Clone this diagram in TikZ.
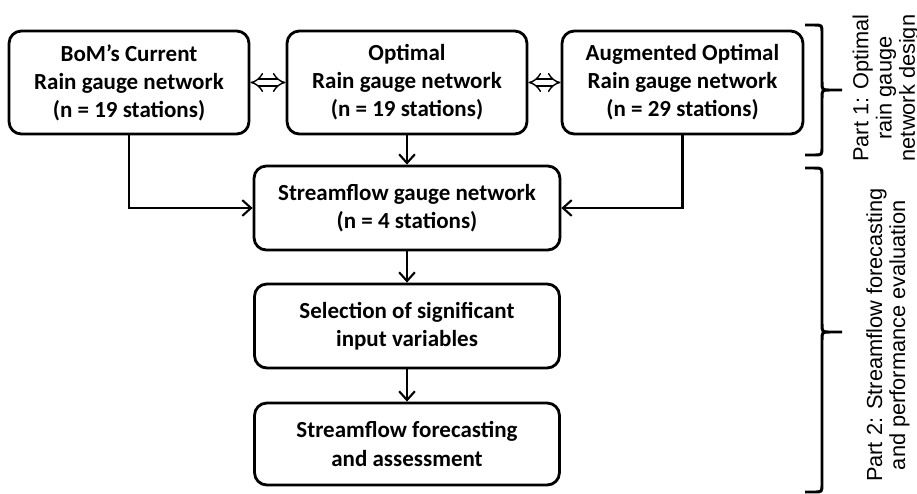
\documentclass[tikz,border=0pt]{standalone}
\usepackage{fontspec}
\setmainfont{Carlito}
\newfontfamily\sidefont{Liberation Sans}
\usetikzlibrary{arrows.meta}

\begin{document}
\begin{tikzpicture}[x=0.02cm, y=-0.02cm,
  stage/.style={draw, line width=1.6pt, rounded corners=7pt, align=center, inner sep=0pt,
    font=\fontsize{13.1}{16}\selectfont\bfseries},
  link/.style={line width=1.2pt, -{Straight Barb[length=5pt,width=9pt]}},
  swap/.style={line width=0.8pt, double distance=3pt, {Implies[length=5pt,width=10pt]}-{Implies[length=5pt,width=10pt]}},
  part/.style={line width=1.7pt},
  side/.style={rotate=90, align=center, font=\sidefont\fontsize{12.4}{13.2}\selectfont}]
\useasboundingbox (0,0) rectangle (917,494);
% part 1: rain gauge networks
\node[stage, minimum width=4.8cm, minimum height=2.06cm] (bom) at (129,82.5) {BoM’s Current\\Rain gauge network\\(n = 19 stations)};
\node[stage, minimum width=4.8cm, minimum height=2.06cm] (opt) at (407,82.5) {Optimal\\Rain gauge network\\(n = 19 stations)};
\node[stage, minimum width=4.82cm, minimum height=2.06cm] (aug) at (682.5,82.5) {Augmented Optimal\\Rain gauge network\\(n = 29 stations)};
% part 2: streamflow
\node[stage, minimum width=6.12cm, minimum height=1.68cm] (sgn) at (407,208) {Streamflow gauge network\\(n = 4 stations)};
\node[stage, minimum width=6.1cm, minimum height=1.68cm] (sel) at (407,326) {Selection of significant\\input variables};
\node[stage, minimum width=6.1cm, minimum height=1.64cm] (fcst) at (407,444) {Streamflow forecasting\\and assessment};

\draw[swap] (bom) -- (opt);
\draw[swap] (opt) -- (aug);
\draw[link] (bom.south) |- (sgn.west);
\draw[link] (aug.south) |- (sgn.east);
\draw[link] (opt) -- (sgn);
\draw[link] (sgn) -- (sel);
\draw[link] (sel) -- (fcst);

% braces
\draw[part] (805,25) -- (814,25) .. controls (822,25) .. (822,33) -- (822,82)
  .. controls (822,90) .. (830,90) -- (842,90)
  (830,90) .. controls (822,90) .. (822,98) -- (822,147)
  .. controls (822,155) .. (814,155) -- (805,155);
\draw[part] (805,168) -- (814,168) .. controls (822,168) .. (822,176) -- (822,324)
  .. controls (822,332) .. (830,332) -- (842,332)
  (830,332) .. controls (822,332) .. (822,340) -- (822,484)
  .. controls (822,492) .. (814,492) -- (805,492);
\node[side] (p1) at (886,88) {Part 1: Optimal\\rain gauge\\network design};
\node[side] (p2) at (888,335) {Part 2: Streamflow forecasting\\and performance evaluation};
\end{tikzpicture}
\end{document}
